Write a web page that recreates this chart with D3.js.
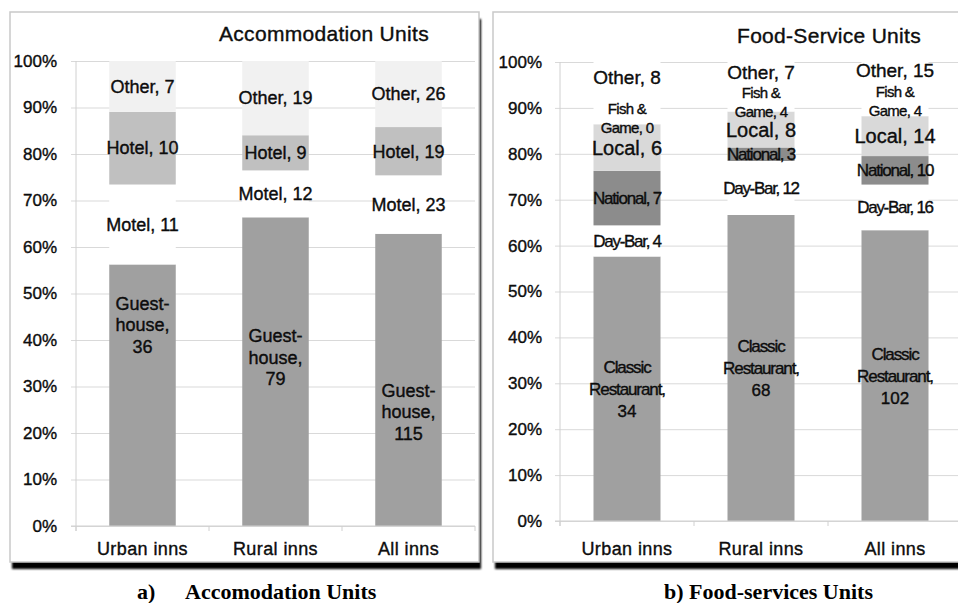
<!DOCTYPE html>
<html>
<head>
<meta charset="utf-8">
<script src="https://cdn.jsdelivr.net/npm/d3@7/dist/d3.min.js"></script>
<style>
  body { margin: 0; background: #fff; }
  svg { display: block; }
  text { font-family: "Liberation Sans", Arial, sans-serif; fill: #111; }
  .heavy { stroke: #000; stroke-width: 0.35px; }
  .caption { font-family: "Liberation Serif", "Times New Roman", serif; font-weight: bold; font-size: 22px; fill: #000; }
</style>
</head>
<body>
<div id="chart"></div>
<script>
// categories (x axis)
const categories = ["Urban inns", "Rural inns", "All inns"];
const yTicks = [0, 0.1, 0.2, 0.3, 0.4, 0.5, 0.6, 0.7, 0.8, 0.9, 1];

// accommodation units (counts)
const guesthouse = [36, 79, 115];
const motel = [11, 12, 23];
const hotel = [10, 9, 19];
const accOther = [7, 19, 26];

// food-service units (counts)
const classicRest = [34, 68, 102];
const dayBar = [4, 12, 16];
const national = [7, 3, 10];
const localFood = [6, 8, 14];
const fishGame = [0, 4, 4];
const foodOther = [8, 7, 15];

let width = 958, height = 603;
let svg = d3.select("#chart").append("svg")
    .attr("width", width)
    .attr("height", height);

let defs = svg.append("defs");
defs.append("filter").attr("id", "shadow")
    .attr("x", "-5%").attr("y", "-5%").attr("width", "110%").attr("height", "110%")
    .append("feGaussianBlur").attr("stdDeviation", 1.3);

// series: name, values, fill, label style, manual label spots (share, null = centred)
let accSeries = [
    {key: "Guest-house", vals: guesthouse, fill: "#a0a0a0", lines: v => ["Guest-", "house,", v],
     size: 18, ls: 0, lh: 21.7, at: [0.432, 0.363, 0.245]},
    {key: "Motel", vals: motel, fill: "#ffffff", lines: v => ["Motel, " + v], size: 18, ls: 0},
    {key: "Hotel", vals: hotel, fill: "#c0c0c0", lines: v => ["Hotel, " + v], size: 18, ls: 0},
    {key: "Other", vals: accOther, fill: "#f1f1f1", lines: v => ["Other, " + v], size: 18, ls: 0}
];
let foodSeries = [
    {key: "Classic Restaurant", vals: classicRest, fill: "#a0a0a0", lines: v => ["Classic", "Restaurant,", v],
     size: 17, ls: -1.1, lh: 22},
    {key: "Day-Bar", vals: dayBar, fill: "#ffffff", lines: v => ["Day-Bar, " + v], size: 17, ls: -1.3},
    {key: "National", vals: national, fill: "#8c8c8c", lines: v => ["National, " + v], size: 17, ls: -1.2},
    {key: "Local", vals: localFood, fill: "#d9d9d9", lines: v => ["Local, " + v], size: 20, ls: 0},
    {key: "Fish & Game", vals: fishGame, fill: "#ffffff", lines: v => ["Fish &", "Game, " + v],
     size: 15, ls: -0.7, lh: 19, at: [0.877, 0.912, 0.915]},
    {key: "Other", vals: foodOther, fill: "#ffffff", lines: v => ["Other, " + v], size: 19, ls: 0,
     at: [0.967, 0.977, 0.981]}
];

let panels = [
    {series: accSeries, box: [10, 12, 469, 550], plot: [76, 475, 61, 526],
     title: "Accommodation Units", titleX: 324, titleY: 41, tickPad: 14},
    {series: foodSeries, box: [493, 12, 480, 550], plot: [560, 962, 62, 521],
     title: "Food-Service Units", titleX: 829, titleY: 43, tickPad: 13}
];

panels.forEach(drawPanel);

function drawPanel(p) {
    let g = svg.append("g");
    let [bx, by, bw, bh] = p.box;
    let [x0, x1, y0, y1] = p.plot;

    // frame with drop shadow
    g.append("rect")
        .attr("x", bx + 2).attr("y", by + 7).attr("width", bw).attr("height", bh)
        .attr("fill", "#000").attr("filter", "url(#shadow)");
    g.append("rect")
        .attr("x", bx).attr("y", by).attr("width", bw).attr("height", bh)
        .attr("fill", "#fff").attr("stroke", "#c9c9c9").attr("stroke-width", 1.5);

    let x = d3.scaleBand().domain(categories).range([x0, x1])
        .paddingInner(0.5).paddingOuter(0.25);
    let y = d3.scaleLinear().domain([0, 1]).range([y1, y0]);

    // rows for the stack
    let rows = categories.map((c, i) => {
        let r = {cat: c};
        p.series.forEach(s => r[s.key] = s.vals[i]);
        return r;
    });
    let stacked = d3.stack().keys(p.series.map(s => s.key))
        .offset(d3.stackOffsetExpand)(rows);

    // y axis + gridlines
    let yAxis = g.append("g")
        .attr("transform", "translate(" + (x0 - 5) + ",0)")
        .call(d3.axisLeft(y).tickValues(yTicks).tickFormat(d3.format(".0%"))
            .tickSize(-(x1 - x0 + 5)).tickPadding(p.tickPad));
    yAxis.select(".domain").remove();
    yAxis.selectAll(".tick line").attr("stroke", "#d9d9d9");
    yAxis.selectAll(".tick text").attr("font-size", 17).attr("fill", "#111")
        .attr("class", "heavy")
        .attr("font-family", "'Liberation Sans', Arial, sans-serif");

    // bars
    stacked.forEach((layer, li) => {
        let s = p.series[li];
        g.append("g").selectAll("rect")
            .data(layer)
            .enter()
            .append("rect")
            .attr("x", d => x(d.data.cat))
            .attr("width", x.bandwidth())
            .attr("y", d => y(d[1]))
            .attr("height", d => y(d[0]) - y(d[1]))
            .attr("fill", s.fill);
    });

    // axis lines
    g.append("line").attr("x1", x0).attr("x2", x0).attr("y1", y0).attr("y2", y1 + 5)
        .attr("stroke", "#d0d0d0");
    g.append("line").attr("x1", x0 - 5).attr("x2", x1).attr("y1", y1).attr("y2", y1)
        .attr("stroke", "#d0d0d0");
    g.selectAll(".xtick")
        .data(d3.range(categories.length + 1))
        .enter()
        .append("line")
        .attr("x1", i => x0 + i * x.step()).attr("x2", i => x0 + i * x.step())
        .attr("y1", y1).attr("y2", y1 + 5)
        .attr("stroke", "#d0d0d0");

    // category labels
    g.selectAll(".cat")
        .data(categories)
        .enter()
        .append("text")
        .attr("class", "heavy")
        .attr("x", d => x(d) + x.bandwidth() / 2)
        .attr("y", by + bh - 7)
        .attr("text-anchor", "middle")
        .attr("font-size", 18)
        .attr("letter-spacing", 0.4)
        .text(d => d);

    // data labels
    stacked.forEach((layer, li) => {
        let s = p.series[li];
        layer.forEach((d, i) => {
            let mid = s.at ? s.at[i] : (d[0] + d[1]) / 2;
            let lines = s.lines(s.vals[i]);
            let lh = s.lh || s.size * 1.2;
            let t = g.append("text")
                .attr("class", "heavy")
                .attr("text-anchor", "middle")
                .attr("font-size", s.size)
                .attr("fill", "#000");
            lines.forEach((ln, k) => {
                t.append("tspan")
                    .attr("x", x(d.data.cat) + x.bandwidth() / 2)
                    .attr("y", y(mid) + (k - (lines.length - 1) / 2) * lh)
                    .attr("dy", "0.35em")
                    .attr("letter-spacing", typeof ln === "number" ? 0 : s.ls)
                    .text(ln);
            });
        });
    });

    // chart title
    g.append("text")
        .attr("class", "heavy")
        .attr("x", p.titleX).attr("y", p.titleY)
        .attr("text-anchor", "middle")
        .attr("font-size", 21)
        .attr("letter-spacing", 0.3)
        .attr("fill", "#000")
        .text(p.title);
}

// captions under the panels
svg.append("text").attr("class", "caption").attr("x", 137).attr("y", 599).text("a)");
svg.append("text").attr("class", "caption").attr("x", 185).attr("y", 599).text("Accomodation Units");
svg.append("text").attr("class", "caption").attr("x", 664).attr("y", 599).text("b) Food-services Units");
</script>
</body>
</html>
